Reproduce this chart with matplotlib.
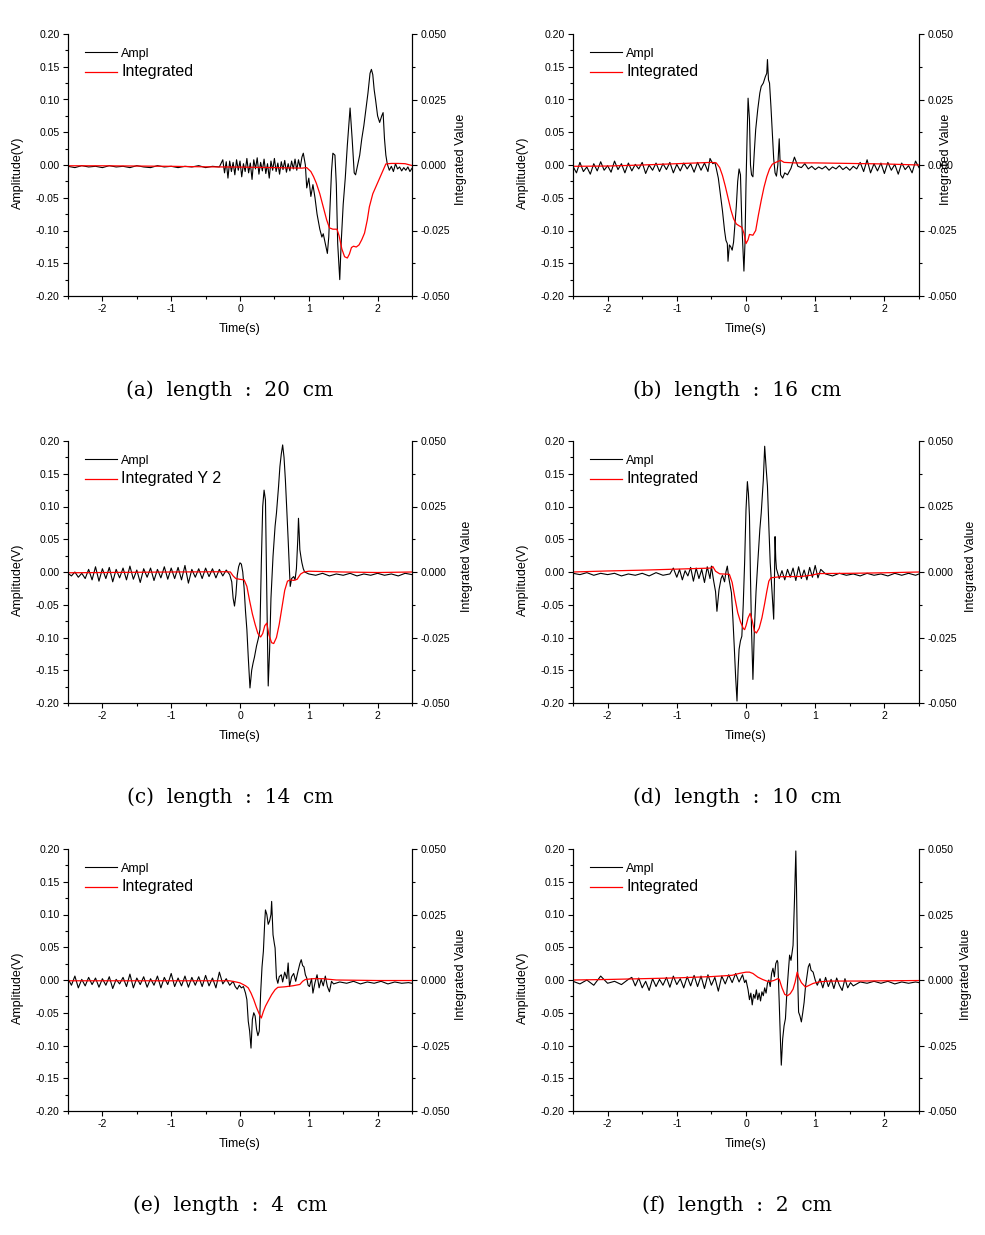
import numpy as np
import matplotlib.pyplot as plt
from matplotlib.ticker import MultipleLocator, FormatStrFormatter

plt.rcParams['font.family'] = ['Liberation Sans', 'DejaVu Sans']
plt.rcParams['axes.unicode_minus'] = False

# (time s, amplitude V)
ampl_a = [
    (-2.5, -0.002), (-2.4, -0.004), (-2.3, -0.001), (-2.2, -0.003), (-2.1, -0.002), (-2.0, -0.004),
    (-1.9, -0.001), (-1.8, -0.003), (-1.7, -0.002), (-1.6, -0.004), (-1.5, -0.001), (-1.4, -0.003),
    (-1.3, -0.004), (-1.2, -0.001), (-1.1, -0.003), (-1.0, -0.002), (-0.9, -0.004), (-0.8, -0.002),
    (-0.7, -0.003), (-0.6, -0.001), (-0.5, -0.004), (-0.4, -0.002), (-0.3, -0.003),
    (-0.25, 0.008), (-0.225, -0.012), (-0.2, 0.005), (-0.175, -0.02), (-0.15, 0.006), (-0.125, -0.01),
    (-0.1, 0.004), (-0.075, -0.015), (-0.05, 0.008), (-0.025, -0.008), (0.0, 0.006), (0.025, -0.018),
    (0.05, 0.002), (0.075, -0.01), (0.1, 0.01), (0.125, -0.012), (0.15, 0.003), (0.175, -0.022),
    (0.2, 0.008), (0.225, -0.006), (0.25, 0.011), (0.275, -0.014), (0.3, 0.004), (0.325, -0.009),
    (0.35, 0.009), (0.375, -0.013), (0.4, 0.002), (0.425, -0.02), (0.45, 0.006), (0.475, -0.008),
    (0.5, 0.01), (0.525, -0.01), (0.55, 0.003), (0.575, -0.014), (0.6, 0.005), (0.625, -0.007),
    (0.65, 0.007), (0.675, -0.011), (0.7, 0.002), (0.725, -0.009), (0.75, 0.006), (0.775, -0.006),
    (0.8, 0.009), (0.825, -0.008), (0.85, 0.008), (0.875, -0.004), (0.9, 0.012), (0.92, 0.018),
    (0.95, 0.0), (0.97, -0.035), (1.0, -0.02), (1.03, -0.048), (1.06, -0.03), (1.09, -0.05),
    (1.12, -0.075), (1.16, -0.098), (1.19, -0.11), (1.21, -0.105), (1.24, -0.12), (1.27, -0.135),
    (1.29, -0.11), (1.31, -0.06), (1.33, -0.01), (1.35, 0.018), (1.38, 0.015), (1.4, -0.03),
    (1.42, -0.12), (1.45, -0.175), (1.47, -0.12), (1.5, -0.06), (1.53, -0.02), (1.56, 0.03),
    (1.6, 0.087), (1.63, 0.04), (1.66, -0.012), (1.68, -0.015), (1.71, 0.0), (1.74, 0.015),
    (1.77, 0.04), (1.8, 0.06), (1.83, 0.085), (1.86, 0.11), (1.89, 0.14), (1.91, 0.146),
    (1.93, 0.138), (1.95, 0.115), (1.97, 0.1), (2.0, 0.075), (2.03, 0.065), (2.06, 0.075),
    (2.08, 0.08), (2.1, 0.04), (2.12, 0.015), (2.14, 0.002), (2.17, -0.008), (2.2, -0.002),
    (2.23, -0.01), (2.26, 0.002), (2.29, -0.006), (2.32, -0.003), (2.35, -0.009), (2.38, -0.004),
    (2.41, -0.008), (2.44, -0.003), (2.47, -0.01), (2.5, -0.005),
]
integ_a = [
    (-2.5, -0.0003), (-2.0, -0.0003), (-1.5, -0.0004), (-1.0, -0.0005), (-0.5, -0.0007), (0.0, -0.0008),
    (0.5, -0.001), (0.9, -0.0012), (0.97, -0.001), (1.03, -0.0025), (1.07, -0.0045), (1.11, -0.007),
    (1.16, -0.011), (1.21, -0.016), (1.26, -0.021), (1.3, -0.024), (1.35, -0.0245), (1.41, -0.0245),
    (1.44, -0.027), (1.48, -0.032), (1.52, -0.035), (1.56, -0.0355), (1.59, -0.034), (1.62, -0.0315),
    (1.65, -0.031), (1.69, -0.0313), (1.73, -0.0305), (1.77, -0.0285), (1.81, -0.026), (1.85, -0.021),
    (1.88, -0.016), (1.93, -0.011), (1.98, -0.008), (2.03, -0.005), (2.08, -0.002), (2.12, 0.0004),
    (2.2, 0.0006), (2.3, 0.0006), (2.4, 0.0005), (2.5, -0.0002),
]

ampl_b = [
    (-2.5, -0.002), (-2.45, -0.012), (-2.4, 0.004), (-2.35, -0.01), (-2.3, -0.003), (-2.25, -0.014),
    (-2.2, 0.002), (-2.15, -0.009), (-2.1, 0.005), (-2.05, -0.008), (-2.0, -0.001), (-1.95, -0.011),
    (-1.9, 0.006), (-1.85, -0.007), (-1.8, 0.002), (-1.75, -0.012), (-1.7, 0.003), (-1.65, -0.009),
    (-1.6, 0.001), (-1.55, -0.006), (-1.5, 0.004), (-1.45, -0.013), (-1.4, 0.0), (-1.35, -0.008),
    (-1.3, 0.003), (-1.25, -0.01), (-1.2, 0.002), (-1.15, -0.007), (-1.1, 0.004), (-1.05, -0.012),
    (-1.0, 0.001), (-0.95, -0.009), (-0.9, 0.003), (-0.85, -0.006), (-0.8, 0.002), (-0.75, -0.011),
    (-0.7, 0.004), (-0.65, -0.008), (-0.6, 0.003), (-0.55, -0.01), (-0.52, 0.01), (-0.48, 0.002),
    (-0.45, 0.004), (-0.43, -0.005), (-0.4, -0.02), (-0.37, -0.045), (-0.34, -0.07), (-0.31, -0.1),
    (-0.29, -0.115), (-0.27, -0.12), (-0.26, -0.147), (-0.24, -0.122), (-0.22, -0.125), (-0.2, -0.13),
    (-0.18, -0.118), (-0.16, -0.09), (-0.14, -0.063), (-0.12, -0.025), (-0.1, -0.006), (-0.08, -0.015),
    (-0.06, -0.09), (-0.04, -0.14), (-0.03, -0.162), (-0.015, -0.12), (0.0, -0.03), (0.015, 0.04),
    (0.03, 0.102), (0.05, 0.07), (0.065, 0.0), (0.08, -0.015), (0.1, -0.018), (0.12, 0.02),
    (0.14, 0.054), (0.17, 0.085), (0.2, 0.11), (0.22, 0.12), (0.25, 0.125), (0.28, 0.135),
    (0.3, 0.14), (0.31, 0.161), (0.325, 0.13), (0.34, 0.125), (0.36, 0.09), (0.38, 0.05),
    (0.4, 0.01), (0.42, -0.012), (0.44, -0.017), (0.46, 0.0), (0.48, 0.04), (0.5, -0.015),
    (0.53, -0.02), (0.56, -0.012), (0.6, -0.015), (0.65, -0.005), (0.7, 0.012), (0.75, -0.002),
    (0.8, -0.004), (0.85, 0.002), (0.9, -0.006), (0.95, -0.002), (1.0, -0.007), (1.05, -0.003),
    (1.1, -0.006), (1.15, -0.002), (1.2, -0.008), (1.25, -0.003), (1.3, -0.006), (1.35, -0.001),
    (1.4, -0.007), (1.45, -0.003), (1.5, -0.008), (1.55, -0.002), (1.6, -0.006), (1.65, 0.004),
    (1.7, -0.01), (1.75, 0.008), (1.8, -0.012), (1.85, 0.002), (1.9, -0.009), (1.95, 0.003),
    (2.0, -0.013), (2.05, 0.004), (2.1, -0.008), (2.15, 0.001), (2.2, -0.014), (2.25, 0.003),
    (2.3, -0.007), (2.35, -0.001), (2.4, -0.012), (2.45, 0.006), (2.5, -0.004),
]
integ_b = [
    (-2.5, -0.0005), (-2.0, -0.0004), (-1.5, 0.0), (-1.0, 0.0005), (-0.7, 0.0008), (-0.5, 0.001),
    (-0.43, 0.0008), (-0.38, -0.001), (-0.34, -0.004), (-0.3, -0.008), (-0.26, -0.0125), (-0.22, -0.017),
    (-0.18, -0.0205), (-0.14, -0.0225), (-0.1, -0.0232), (-0.06, -0.0238), (-0.03, -0.026), (0.0, -0.03),
    (0.03, -0.0285), (0.05, -0.0265), (0.1, -0.0268), (0.14, -0.025), (0.18, -0.019), (0.22, -0.0135),
    (0.26, -0.0085), (0.3, -0.0045), (0.34, -0.0015), (0.38, 0.0003), (0.43, 0.001), (0.5, 0.0018),
    (0.55, 0.001), (0.7, 0.0008), (1.0, 0.0008), (1.5, 0.0006), (2.0, 0.0004), (2.5, 0.0),
]

ampl_c = [
    (-2.5, -0.002), (-2.45, -0.006), (-2.4, 0.0), (-2.35, -0.008), (-2.3, -0.002), (-2.25, -0.01),
    (-2.2, 0.004), (-2.15, -0.012), (-2.1, 0.008), (-2.05, -0.014), (-2.0, 0.005), (-1.95, -0.01),
    (-1.9, 0.007), (-1.85, -0.015), (-1.8, 0.004), (-1.75, -0.009), (-1.7, 0.006), (-1.65, -0.012),
    (-1.6, 0.009), (-1.55, -0.011), (-1.5, 0.003), (-1.45, -0.016), (-1.4, 0.005), (-1.35, -0.008),
    (-1.3, 0.006), (-1.25, -0.013), (-1.2, 0.004), (-1.15, -0.009), (-1.1, 0.008), (-1.05, -0.011),
    (-1.0, 0.006), (-0.95, -0.01), (-0.9, 0.007), (-0.85, -0.012), (-0.8, 0.01), (-0.75, -0.017),
    (-0.7, 0.004), (-0.65, -0.008), (-0.6, 0.005), (-0.55, -0.01), (-0.5, 0.006), (-0.45, -0.007),
    (-0.4, 0.005), (-0.35, -0.009), (-0.3, 0.004), (-0.25, -0.006), (-0.2, 0.003), (-0.15, -0.004),
    (-0.12, -0.015), (-0.1, -0.04), (-0.08, -0.052), (-0.06, -0.035), (-0.04, -0.005), (-0.02, 0.008),
    (0.0, 0.014), (0.02, 0.012), (0.04, 0.0), (0.06, -0.025), (0.08, -0.06), (0.1, -0.088),
    (0.12, -0.13), (0.145, -0.177), (0.17, -0.15), (0.19, -0.139), (0.21, -0.13), (0.24, -0.113),
    (0.27, -0.1), (0.29, -0.088), (0.31, 0.014), (0.33, 0.1), (0.35, 0.125), (0.37, 0.11),
    (0.39, -0.037), (0.41, -0.174), (0.43, -0.12), (0.45, -0.04), (0.48, 0.024), (0.51, 0.07),
    (0.53, 0.09), (0.56, 0.13), (0.58, 0.161), (0.6, 0.18), (0.62, 0.194), (0.64, 0.175),
    (0.66, 0.14), (0.68, 0.095), (0.7, 0.049), (0.72, 0.0), (0.73, -0.022), (0.75, -0.01),
    (0.78, -0.007), (0.8, -0.012), (0.82, 0.005), (0.84, 0.05), (0.85, 0.082), (0.86, 0.06),
    (0.87, 0.034), (0.89, 0.02), (0.9, 0.014), (0.92, 0.005), (0.94, 0.0), (1.0, -0.003),
    (1.1, -0.005), (1.2, -0.002), (1.3, -0.006), (1.4, -0.003), (1.5, -0.005), (1.6, -0.002),
    (1.7, -0.006), (1.8, -0.003), (1.9, -0.005), (2.0, -0.002), (2.1, -0.005), (2.2, -0.003),
    (2.3, -0.006), (2.4, -0.002), (2.5, -0.004),
]
integ_c = [
    (-2.5, -0.0003), (-1.0, 0.0), (-0.2, 0.0001), (-0.14, 0.0), (-0.1, -0.0015), (-0.06, -0.0025),
    (0.0, -0.0028), (0.06, -0.003), (0.1, -0.0055), (0.14, -0.011), (0.18, -0.016), (0.22, -0.02),
    (0.26, -0.0235), (0.3, -0.0248), (0.33, -0.0235), (0.36, -0.0205), (0.39, -0.0195), (0.42, -0.024),
    (0.46, -0.027), (0.49, -0.0273), (0.53, -0.025), (0.57, -0.02), (0.61, -0.0135), (0.65, -0.007),
    (0.69, -0.0035), (0.73, -0.003), (0.78, -0.0032), (0.83, -0.0028), (0.88, -0.0008), (0.93, 0.0),
    (1.0, 0.0003), (1.5, 0.0), (2.0, -0.0002), (2.5, 0.0),
]

ampl_d = [
    (-2.5, -0.002), (-2.4, -0.004), (-2.3, -0.001), (-2.2, -0.005), (-2.1, -0.002), (-2.0, -0.004),
    (-1.9, -0.002), (-1.8, -0.006), (-1.7, -0.003), (-1.6, -0.005), (-1.5, -0.002), (-1.4, -0.006),
    (-1.3, -0.001), (-1.2, -0.005), (-1.1, -0.003), (-1.05, 0.006), (-1.0, -0.008), (-0.96, 0.004),
    (-0.92, -0.012), (-0.88, 0.002), (-0.84, -0.006), (-0.8, 0.007), (-0.76, -0.014), (-0.72, 0.006),
    (-0.68, -0.01), (-0.64, 0.004), (-0.6, -0.016), (-0.56, 0.008), (-0.52, -0.01), (-0.5, 0.009),
    (-0.47, -0.012), (-0.44, -0.03), (-0.42, -0.06), (-0.39, -0.027), (-0.36, -0.01), (-0.34, -0.005),
    (-0.31, -0.015), (-0.29, 0.0), (-0.27, 0.009), (-0.25, -0.008), (-0.23, -0.02), (-0.21, -0.032),
    (-0.19, -0.07), (-0.17, -0.113), (-0.15, -0.16), (-0.13, -0.197), (-0.115, -0.15), (-0.1, -0.118),
    (-0.08, -0.105), (-0.06, -0.098), (-0.04, -0.05), (-0.02, 0.014), (0.0, 0.095), (0.02, 0.138),
    (0.035, 0.12), (0.05, 0.085), (0.065, -0.01), (0.08, -0.088), (0.1, -0.164), (0.11, -0.13),
    (0.12, -0.09), (0.145, -0.03), (0.17, 0.014), (0.2, 0.065), (0.22, 0.09), (0.25, 0.14),
    (0.27, 0.192), (0.29, 0.16), (0.31, 0.131), (0.33, 0.07), (0.35, 0.014), (0.38, -0.037),
    (0.4, -0.072), (0.41, -0.02), (0.42, 0.054), (0.43, 0.02), (0.44, 0.005), (0.48, -0.01),
    (0.52, 0.002), (0.56, -0.012), (0.6, 0.004), (0.64, -0.008), (0.68, 0.006), (0.72, -0.013),
    (0.76, 0.008), (0.8, -0.01), (0.84, 0.003), (0.88, -0.012), (0.92, 0.007), (0.96, -0.008),
    (1.0, 0.01), (1.04, -0.009), (1.08, 0.004), (1.15, -0.003), (1.25, -0.006), (1.35, -0.002),
    (1.45, -0.005), (1.55, -0.003), (1.65, -0.006), (1.75, -0.002), (1.85, -0.005), (1.95, -0.003),
    (2.05, -0.006), (2.15, -0.002), (2.25, -0.005), (2.35, -0.002), (2.45, -0.005), (2.5, -0.003),
]
integ_d = [
    (-2.5, 0.0), (-2.0, 0.0004), (-1.5, 0.0007), (-1.0, 0.0011), (-0.5, 0.0015), (-0.48, 0.0021),
    (-0.44, 0.0003), (-0.38, -0.0007), (-0.3, -0.0008), (-0.24, -0.0009), (-0.2, -0.004), (-0.16, -0.01),
    (-0.12, -0.0155), (-0.08, -0.019), (-0.04, -0.0215), (-0.02, -0.022), (0.0, -0.0205), (0.03, -0.0175),
    (0.06, -0.0158), (0.09, -0.0185), (0.12, -0.0225), (0.15, -0.0233), (0.19, -0.0215), (0.23, -0.0175),
    (0.27, -0.012), (0.3, -0.0075), (0.33, -0.0035), (0.36, -0.0022), (0.5, -0.0018), (0.8, -0.0017),
    (0.95, -0.0012), (1.05, -0.0006), (1.5, -0.0005), (2.0, -0.0003), (2.5, 0.0),
]

ampl_e = [
    (-2.5, 0.002), (-2.45, -0.008), (-2.4, 0.006), (-2.35, -0.012), (-2.3, 0.001), (-2.25, -0.009),
    (-2.2, 0.004), (-2.15, -0.007), (-2.1, 0.003), (-2.05, -0.011), (-2.0, 0.002), (-1.95, -0.008),
    (-1.9, 0.005), (-1.85, -0.013), (-1.8, 0.001), (-1.75, -0.006), (-1.7, 0.004), (-1.65, -0.01),
    (-1.6, 0.009), (-1.55, -0.012), (-1.5, 0.003), (-1.45, -0.007), (-1.4, 0.005), (-1.35, -0.011),
    (-1.3, 0.002), (-1.25, -0.008), (-1.2, 0.006), (-1.15, -0.012), (-1.1, 0.004), (-1.05, -0.007),
    (-1.0, 0.01), (-0.95, -0.01), (-0.9, 0.003), (-0.85, -0.009), (-0.8, 0.006), (-0.75, -0.011),
    (-0.7, 0.004), (-0.65, -0.008), (-0.6, 0.005), (-0.55, -0.01), (-0.5, 0.007), (-0.45, -0.009),
    (-0.4, 0.003), (-0.35, -0.012), (-0.3, 0.012), (-0.25, -0.006), (-0.2, 0.002), (-0.15, -0.008),
    (-0.1, -0.002), (-0.07, -0.01), (-0.04, -0.014), (-0.01, -0.008), (0.02, -0.012), (0.05, -0.01),
    (0.08, -0.02), (0.1, -0.03), (0.12, -0.063), (0.14, -0.078), (0.16, -0.104), (0.18, -0.06),
    (0.2, -0.05), (0.22, -0.055), (0.24, -0.075), (0.26, -0.085), (0.28, -0.078), (0.3, -0.02),
    (0.32, 0.02), (0.34, 0.044), (0.36, 0.09), (0.37, 0.107), (0.39, 0.1), (0.41, 0.085),
    (0.43, 0.09), (0.45, 0.1), (0.46, 0.12), (0.48, 0.069), (0.5, 0.055), (0.51, 0.049),
    (0.53, 0.003), (0.55, -0.005), (0.57, 0.005), (0.6, 0.008), (0.62, -0.003), (0.65, 0.012),
    (0.68, 0.002), (0.7, 0.026), (0.72, -0.01), (0.75, 0.005), (0.78, 0.01), (0.81, -0.002),
    (0.84, 0.012), (0.87, 0.025), (0.89, 0.031), (0.91, 0.022), (0.93, 0.02), (0.95, 0.008),
    (0.97, 0.003), (0.99, -0.008), (1.01, -0.01), (1.04, 0.002), (1.06, -0.02), (1.09, -0.004),
    (1.12, 0.008), (1.15, -0.012), (1.18, 0.001), (1.21, -0.009), (1.24, 0.006), (1.27, -0.01),
    (1.3, -0.018), (1.33, -0.002), (1.36, -0.006), (1.45, -0.003), (1.55, -0.005), (1.65, -0.002),
    (1.75, -0.006), (1.85, -0.003), (1.95, -0.005), (2.05, -0.002), (2.15, -0.006), (2.25, -0.003),
    (2.35, -0.005), (2.45, -0.004), (2.5, -0.005),
]
integ_e = [
    (-2.5, -0.0003), (-1.0, -0.0003), (-0.15, -0.0003), (-0.05, -0.0008), (0.0, -0.0011), (0.08, -0.0022),
    (0.12, -0.003), (0.16, -0.005), (0.2, -0.0075), (0.24, -0.0105), (0.28, -0.013), (0.31, -0.0145),
    (0.34, -0.012), (0.37, -0.01), (0.41, -0.008), (0.46, -0.0056), (0.51, -0.0037), (0.55, -0.0028),
    (0.65, -0.0026), (0.77, -0.0022), (0.87, -0.0017), (0.91, -0.0005), (0.95, 0.0002), (1.06, 0.0005),
    (1.2, 0.0005), (1.4, 0.0), (2.0, -0.0002), (2.5, -0.0002),
]

ampl_f = [
    (-2.5, -0.002), (-2.4, -0.006), (-2.3, 0.0), (-2.2, -0.008), (-2.1, 0.006), (-2.0, -0.005),
    (-1.9, -0.002), (-1.8, -0.007), (-1.7, 0.001), (-1.65, 0.004), (-1.6, -0.009), (-1.55, 0.003),
    (-1.5, -0.012), (-1.45, -0.002), (-1.4, -0.016), (-1.35, 0.002), (-1.3, -0.01), (-1.25, 0.001),
    (-1.2, -0.008), (-1.15, 0.004), (-1.1, -0.011), (-1.05, 0.006), (-1.0, -0.007), (-0.95, 0.002),
    (-0.9, -0.012), (-0.85, 0.005), (-0.8, -0.009), (-0.75, 0.007), (-0.7, -0.01), (-0.65, 0.006),
    (-0.6, -0.013), (-0.55, 0.008), (-0.5, -0.008), (-0.45, 0.004), (-0.4, -0.017), (-0.35, 0.006),
    (-0.3, -0.006), (-0.25, 0.008), (-0.2, -0.004), (-0.15, 0.01), (-0.1, -0.003), (-0.05, 0.008),
    (-0.02, -0.004), (0.0, 0.0), (0.03, -0.015), (0.05, -0.03), (0.07, -0.02), (0.09, -0.038),
    (0.11, -0.022), (0.13, -0.028), (0.15, -0.015), (0.17, -0.03), (0.19, -0.02), (0.21, -0.032),
    (0.23, -0.018), (0.25, -0.024), (0.27, -0.012), (0.29, -0.02), (0.31, -0.005), (0.33, 0.0),
    (0.35, -0.01), (0.37, 0.01), (0.39, 0.018), (0.41, 0.005), (0.43, 0.025), (0.45, 0.03),
    (0.46, 0.027), (0.48, -0.034), (0.5, -0.1), (0.51, -0.13), (0.53, -0.09), (0.55, -0.07),
    (0.57, -0.059), (0.59, -0.02), (0.61, 0.01), (0.63, 0.038), (0.65, 0.03), (0.67, 0.045),
    (0.68, 0.053), (0.7, 0.12), (0.72, 0.197), (0.73, 0.14), (0.74, 0.068), (0.75, -0.01),
    (0.76, -0.049), (0.78, -0.055), (0.8, -0.064), (0.82, -0.05), (0.84, -0.034), (0.86, -0.01),
    (0.88, 0.005), (0.9, 0.02), (0.92, 0.025), (0.94, 0.015), (0.97, 0.012), (1.0, 0.0),
    (1.03, -0.008), (1.07, 0.002), (1.11, -0.012), (1.15, 0.004), (1.19, -0.01), (1.23, 0.001),
    (1.27, -0.013), (1.31, 0.003), (1.35, -0.008), (1.39, -0.016), (1.43, 0.002), (1.47, -0.012),
    (1.51, -0.004), (1.55, -0.009), (1.65, -0.003), (1.75, -0.005), (1.85, -0.002), (1.95, -0.005),
    (2.05, -0.002), (2.15, -0.006), (2.25, -0.003), (2.35, -0.005), (2.45, -0.003), (2.5, -0.004),
]
integ_f = [
    (-2.5, 0.0), (-2.0, 0.0002), (-1.5, 0.0005), (-1.0, 0.0008), (-0.5, 0.0013), (-0.2, 0.0018),
    (-0.1, 0.0025), (0.0, 0.003), (0.05, 0.003), (0.1, 0.0025), (0.17, 0.0011), (0.24, 0.0002),
    (0.3, -0.0004), (0.34, -0.0006), (0.4, -0.0002), (0.46, 0.0005), (0.48, 0.0003), (0.52, -0.003),
    (0.56, -0.0055), (0.6, -0.006), (0.64, -0.0052), (0.68, -0.0035), (0.71, -0.0008), (0.74, 0.003),
    (0.76, 0.0012), (0.8, -0.001), (0.86, -0.0027), (0.9, -0.0022), (0.97, -0.0013), (1.06, -0.0007),
    (1.2, -0.0004), (1.6, -0.0004), (2.0, -0.0003), (2.5, -0.0002),
]

captions = ["(a)  length  :  20  cm", "(b)  length  :  16  cm", "(c)  length  :  14  cm",
            "(d)  length  :  10  cm", "(e)  length  :  4  cm", "(f)  length  :  2  cm"]
integ_labels = ["Integrated", "Integrated", "Integrated Y 2", "Integrated", "Integrated", "Integrated"]
ampls = [ampl_a, ampl_b, ampl_c, ampl_d, ampl_e, ampl_f]
integs = [integ_a, integ_b, integ_c, integ_d, integ_e, integ_f]

W, H = 985, 1235
fig = plt.figure(figsize=(W / 100, H / 100), dpi=100)

# axes boxes in pixels: left, top, right, bottom
boxes = [(68, 34, 412, 296), (573, 34, 919, 296),
         (68, 441, 412, 703), (573, 441, 919, 703),
         (68, 849, 412, 1111), (573, 849, 919, 1111)]
right_label_dx = [43, 21, 49, 46, 43, 41]
caption_y = [390, 390, 797, 797, 1205, 1205]
caption_x = [230, 737, 230, 737, 230, 737]

for i in range(6):
    l, t, r, b = boxes[i]
    w, h = r - l, b - t
    ax = fig.add_axes([l / W, 1 - b / H, w / W, h / H])
    ax2 = ax.twinx()
    ta, va = zip(*ampls[i])
    ti, vi = zip(*integs[i])
    la, = ax.plot(ta, va, color='black', lw=0.8)
    li, = ax2.plot(ti, vi, color='red', lw=0.9)

    ax.set_xlim(-2.5, 2.5)
    ax.set_ylim(-0.2, 0.2)
    ax2.set_ylim(-0.05, 0.05)
    for a in (ax, ax2):
        a.spines['top'].set_visible(False)
        a.tick_params(which='both', direction='out', labelsize=7.6, pad=2.5)
        a.tick_params(which='major', length=3.5, width=0.8)
        a.tick_params(which='minor', length=2.2, width=0.8)
    ax.xaxis.set_major_locator(MultipleLocator(1))
    ax.xaxis.set_minor_locator(MultipleLocator(0.5))
    ax.yaxis.set_major_locator(MultipleLocator(0.05))
    ax.yaxis.set_minor_locator(MultipleLocator(0.025))
    ax.yaxis.set_major_formatter(FormatStrFormatter('%.2f'))
    ax2.yaxis.set_major_locator(MultipleLocator(0.025))
    ax2.yaxis.set_minor_locator(MultipleLocator(0.0125))
    ax2.yaxis.set_major_formatter(FormatStrFormatter('%.3f'))

    ax.set_xlabel('Time(s)', fontsize=9)
    ax.xaxis.set_label_coords(0.5, -27 / h)
    ax.set_ylabel('Amplitude(V)', fontsize=9)
    ax.yaxis.set_label_coords(-44 / w, 0.47)
    ax2.set_ylabel('Integrated Value', fontsize=9)
    ax2.yaxis.set_label_coords(1 + right_label_dx[i] / w, 0.52)

    leg = ax2.legend([la, li], ['Ampl', integ_labels[i]], loc='upper left',
                     bbox_to_anchor=(0.017, 0.99), frameon=False, fontsize=9,
                     handlelength=2.55, handletextpad=0.35, labelspacing=0.35)
    leg.get_texts()[1].set_fontsize(11.5)

    fig.text(caption_x[i] / W, 1 - caption_y[i] / H, captions[i], ha='center', va='center',
             fontsize=14.5, family=['DejaVu Serif'])

fig.savefig('out.png', dpi=100)
